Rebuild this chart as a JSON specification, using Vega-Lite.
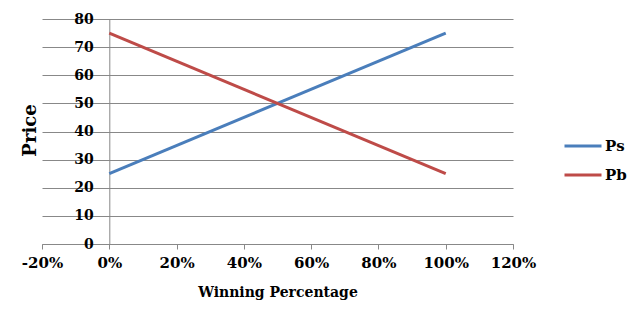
{
  "$schema": "https://vega.github.io/schema/vega-lite/v6.json",
  "width": 471,
  "height": 225,
  "autosize": {"type": "none"},
  "padding": {"left": 42, "top": 19, "right": 127, "bottom": 78},
  "background": "white",
  "config": {
    "view": {"stroke": null},
    "font": "DejaVu Serif"
  },
  "data": {
    "values": [
      {"wp": 0, "price": 25, "series": "Ps"},
      {"wp": 1, "price": 75, "series": "Ps"},
      {"wp": 0, "price": 75, "series": "Pb"},
      {"wp": 1, "price": 25, "series": "Pb"}
    ]
  },
  "mark": {"type": "line", "strokeWidth": 3},
  "encoding": {
    "x": {
      "field": "wp",
      "type": "quantitative",
      "scale": {"domain": [-0.2, 1.2], "nice": false, "zero": false},
      "axis": {
        "values": [-0.2, 0, 0.2, 0.4, 0.6, 0.8, 1, 1.2],
        "format": ".0%",
        "labelExpr": "replace(datum.label, '\u2212', '-')",
        "labelFlush": false,
        "labelOverlap": false,
        "grid": false,
        "domainColor": "#888888",
        "tickColor": "#888888",
        "tickSize": 5,
        "labelPadding": 6,
        "labelFont": "DejaVu Serif",
        "labelFontSize": 15,
        "labelFontWeight": "bold",
        "labelColor": "black",
        "title": "Winning Percentage",
        "titleFont": "DejaVu Serif",
        "titleFontSize": 14,
        "titleFontWeight": "bold",
        "titleColor": "black",
        "titlePadding": 15
      }
    },
    "y": {
      "field": "price",
      "type": "quantitative",
      "scale": {"domain": [0, 80], "nice": false},
      "axis": {
        "values": [0, 10, 20, 30, 40, 50, 60, 70, 80],
        "offset": -67.3,
        "grid": true,
        "gridColor": "#888888",
        "gridOpacity": 1,
        "domainColor": "#888888",
        "ticks": false,
        "labelPadding": 16,
        "labelFont": "DejaVu Serif",
        "labelFontSize": 14,
        "labelFontWeight": "bold",
        "labelColor": "black",
        "title": "Price",
        "titleFont": "DejaVu Serif",
        "titleFontSize": 18,
        "titleFontWeight": "bold",
        "titleColor": "black",
        "titleAngle": -90,
        "titleX": -70,
        "titleY": 111
      }
    },
    "color": {
      "field": "series",
      "type": "nominal",
      "sort": ["Ps", "Pb"],
      "scale": {"domain": ["Ps", "Pb"], "range": ["#4A7EBB", "#BE4B48"]},
      "legend": {
        "title": null,
        "orient": "none",
        "legendX": 521,
        "legendY": 107,
        "symbolType": "stroke",
        "symbolSize": 1369,
        "symbolStrokeWidth": 3,
        "labelFont": "DejaVu Serif",
        "labelFontSize": 15,
        "labelFontWeight": "bold",
        "labelColor": "black",
        "labelOffset": 2,
        "rowPadding": 1
      }
    }
  }
}
